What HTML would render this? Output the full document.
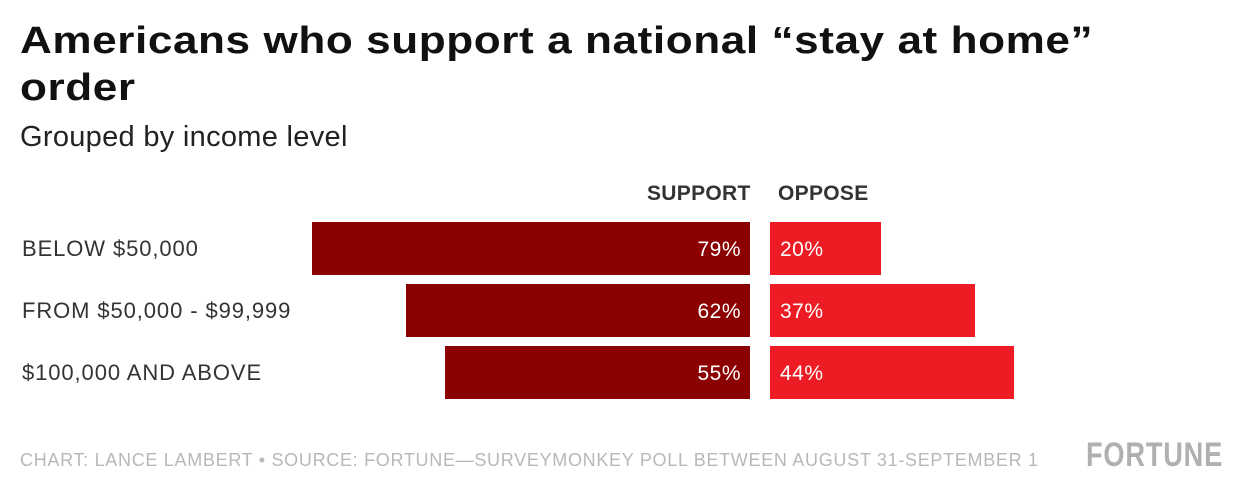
<!DOCTYPE html>
<html><head><meta charset="utf-8">
<style>
body{margin:0;width:1240px;height:500px;background:#fff;font-family:"Liberation Sans",sans-serif;position:relative;overflow:hidden}
.t{position:absolute;white-space:nowrap}
#title{left:20px;top:18px;font-size:38px;font-weight:bold;line-height:47px;color:#111;letter-spacing:0.5px;transform:scaleX(1.16);transform-origin:left}
#sub{left:20px;top:121px;font-size:29px;color:#222;letter-spacing:0.3px}
.hdr{top:182px;font-size:21px;font-weight:bold;color:#333;letter-spacing:0.3px}
.lab{left:22px;font-size:22px;color:#333;letter-spacing:0.9px}
.val{font-size:21px;color:#fff;letter-spacing:0.5px}
#foot{left:20px;top:450px;font-size:18px;color:#b8b8b8;letter-spacing:0.7px}
#logo{left:1086px;top:436px;font-size:34px;font-weight:bold;color:#b0b0b0;letter-spacing:1px;transform:scaleX(0.8);transform-origin:left}
.bar{position:absolute}
</style></head><body>
<div id="title" class="t">Americans who support a national “stay at home”<br>order</div>
<div id="sub" class="t">Grouped by income level</div>
<div class="t hdr" style="left:647px">SUPPORT</div>
<div class="t hdr" style="left:778px">OPPOSE</div>
<div id="chart"></div>
<div id="foot" class="t">CHART: LANCE LAMBERT • SOURCE: FORTUNE—SURVEYMONKEY POLL BETWEEN AUGUST 31-SEPTEMBER 1</div>
<div id="logo" class="t">FORTUNE</div>
<script>
const categories=["BELOW $50,000","FROM $50,000 - $99,999","$100,000 AND ABOVE"];
const support=[79,62,55];
const oppose=[20,37,44];
const px=v=>v*5.545;
const rowY=i=>222+i*62;
const chart=document.getElementById('chart');
categories.forEach((c,i)=>{
  const y=rowY(i);
  const l=document.createElement('div');
  l.className='t lab';l.style.top=(y+14)+'px';l.textContent=c;
  
  
  chart.appendChild(l);
  const s=document.createElement('div');
  s.className='bar';const w=px(support[i]);
  s.style.cssText=`left:${750-w}px;top:${y}px;width:${w}px;height:53px;background:#8b0000`;
  
  
  chart.appendChild(s);
  const sv=document.createElement('div');
  sv.className='t val';sv.style.cssText=`right:${1240-741}px;top:${y+16}px`;sv.textContent=support[i]+'%';
  
  
  chart.appendChild(sv);
  const o=document.createElement('div');
  o.className='bar';const w2=px(oppose[i]);
  o.style.cssText=`left:770px;top:${y}px;width:${w2}px;height:53px;background:#ed1c24`;
  
  
  chart.appendChild(o);
  const ov=document.createElement('div');
  ov.className='t val';ov.style.cssText=`left:780px;top:${y+16}px`;ov.textContent=oppose[i]+'%';
  
  
  chart.appendChild(ov);
});
</script>
</body></html>
